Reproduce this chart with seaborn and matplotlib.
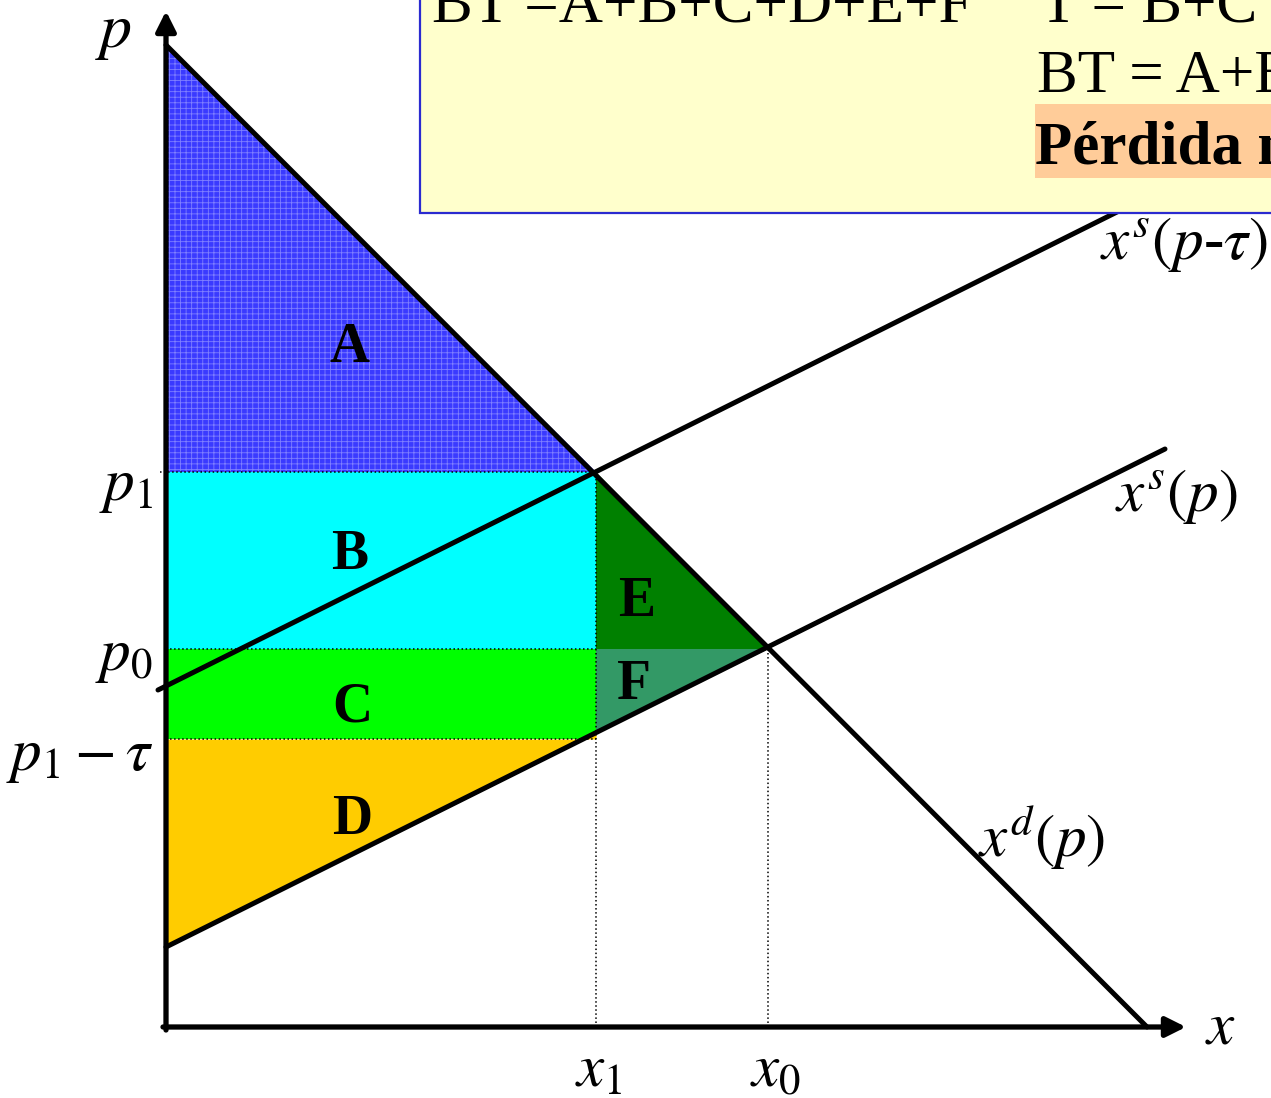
import numpy as np
import pandas as pd
import seaborn as sns
import matplotlib.pyplot as plt
from matplotlib.patches import Polygon, Rectangle

# key values (axis units)
x1 = 4.30      # quantity with tax
x0 = 6.02      # quantity without tax
p1 = 5.55      # consumer price with tax
p0 = 3.78      # equilibrium price
p1_tau = 2.88  # producer price p1 - tau

# curve endpoints
demand_x = [0.0, 9.81]
demand_p = [9.82, 0.0]
supply_x = [0.0, 9.99]
supply_p = [0.80, 5.78]
taxsup_x = [-0.08, 9.55]
taxsup_p = [3.37, 8.17]

region_labels = ["A", "B", "C", "D", "E", "F"]
region_colors = ["#3a3aff", "#00ffff", "#00ff00", "#ffcc00", "#008000", "#339966"]

sns.set_theme(style="white")
plt.rcParams["font.family"] = ["Liberation Serif", "DejaVu Serif"]
plt.rcParams["mathtext.fontset"] = "stix"
plt.rcParams["hatch.linewidth"] = 0.6
plt.rcParams["text.color"] = "black"

fig = plt.figure(figsize=(12.71, 10.98), dpi=100)
ax = fig.add_axes([0, 0, 1, 1])
ax.set_xlim(-1.66, 11.05)
ax.set_ylim(-0.71, 10.27)
ax.axis("off")

s_x1 = np.interp(x1, supply_x, supply_p)
s_0 = supply_p[0]

# shaded areas
ax.add_patch(Polygon([(0, p1), (0, demand_p[0]), (x1, p1)], closed=True,
                     facecolor=region_colors[0], edgecolor="#8080ff",
                     hatch="+++", lw=0, zorder=1))
ax.fill_between([0, x1], p0, p1, color=region_colors[1], lw=0, zorder=1)
ax.fill_between([0, x1], p1_tau, p0, color=region_colors[2], lw=0, zorder=1)
ax.fill_between([0, x1], [s_0, s_x1], p1_tau, color=region_colors[3], lw=0, zorder=1)
ax.add_patch(Polygon([(x1, p1), (x1, p0), (x0, p0)], closed=True,
                     facecolor=region_colors[4], lw=0, zorder=1))
ax.add_patch(Polygon([(x1, p0), (x0, p0), (x1, s_x1)], closed=True,
                     facecolor=region_colors[5], lw=0, zorder=1))

# dotted guides
dot = dict(color="black", ls=":", lw=1.1, zorder=2)
ax.plot([-0.06, x1], [p1, p1], **dot)
ax.plot([0, x1], [p0, p0], **dot)
ax.plot([0, x1], [p1_tau, p1_tau], **dot)
ax.plot([x1, x1], [0, p1], **dot)
ax.plot([x0, x0], [0, p0], **dot)

# curves
curves = pd.DataFrame({
    "x": demand_x + supply_x + taxsup_x,
    "p": demand_p + supply_p + taxsup_p,
    "curve": ["d"] * 2 + ["s"] * 2 + ["st"] * 2,
})
sns.lineplot(data=curves, x="x", y="p", units="curve", estimator=None,
             color="black", lw=3.6, ax=ax, zorder=3, sort=False)

# axes with arrows
ax.annotate("", xy=(0, 10.16), xytext=(0, -0.03),
            arrowprops=dict(arrowstyle="-|>,head_width=0.5,head_length=1.0",
                            color="black", lw=3.8, shrinkA=0, shrinkB=0), zorder=4)
ax.annotate("", xy=(10.2, 0), xytext=(-0.03, 0),
            arrowprops=dict(arrowstyle="-|>,head_width=0.5,head_length=1.0",
                            color="black", lw=3.8, shrinkA=0, shrinkB=0), zorder=4)

# text box at the top
ax.add_patch(Rectangle((2.54, 8.14), 9.0, 3.0, facecolor="#ffffcc",
                       edgecolor="#2b2bd0", lw=1.6, zorder=5))
ax.add_patch(Rectangle((8.69, 8.49), 3.0, 0.74, facecolor="#ffcc99",
                       lw=0, zorder=6))
fs = 44
ax.text(2.66, 10.05, "BT =A+B+C+D+E+F", fontsize=fs, va="baseline", zorder=7)
ax.text(8.74, 10.05, "T = B+C", fontsize=fs, va="baseline", zorder=7)
ax.text(8.71, 9.35, "BT = A+B+C+D", fontsize=fs, va="baseline", zorder=7)
ax.text(8.69, 8.64, "Pérdida neta = E+F", fontsize=fs, fontweight="bold",
        va="baseline", zorder=7)

# axis labels
ax.text(-0.71, 9.8, r"$p$", fontsize=46, va="baseline", ha="left")
ax.text(10.39, -0.16, r"$x$", fontsize=fs, va="baseline", ha="left")
ax.text(-0.13, p1 - 0.15, r"$p_1$", fontsize=fs, ha="right", va="center")
ax.text(-0.13, p0 - 0.08, r"$p_0$", fontsize=fs, ha="right", va="center")
ax.text(-0.13, p1_tau - 0.18, r"$p_1-\tau$", fontsize=fs, ha="right", va="center")
ax.text(x1 + 0.03, -0.45, r"$x_1$", fontsize=fs, ha="center", va="center")
ax.text(x0 + 0.08, -0.45, r"$x_0$", fontsize=fs, ha="center", va="center")

# curve labels
ax.text(9.34, 7.82, r"$x^s(p$-$\tau)$", fontsize=fs, ha="left", va="center")
ax.text(9.49, 5.30, r"$x^s(p)$", fontsize=fs, ha="left", va="center")
ax.text(8.12, 1.89, r"$x^d(p)$", fontsize=fs, ha="left", va="center")

# area letters
label_pos = [(1.84, 6.79), (1.84, 4.72), (1.86, 3.19), (1.86, 2.07),
             (4.71, 4.25), (4.68, 3.42)]
for lab, (lx, ly) in zip(region_labels, label_pos):
    ax.text(lx, ly, lab, fontsize=40, fontweight="heavy", ha="center",
            va="center", zorder=8)

fig.savefig("out.png", dpi=100)
